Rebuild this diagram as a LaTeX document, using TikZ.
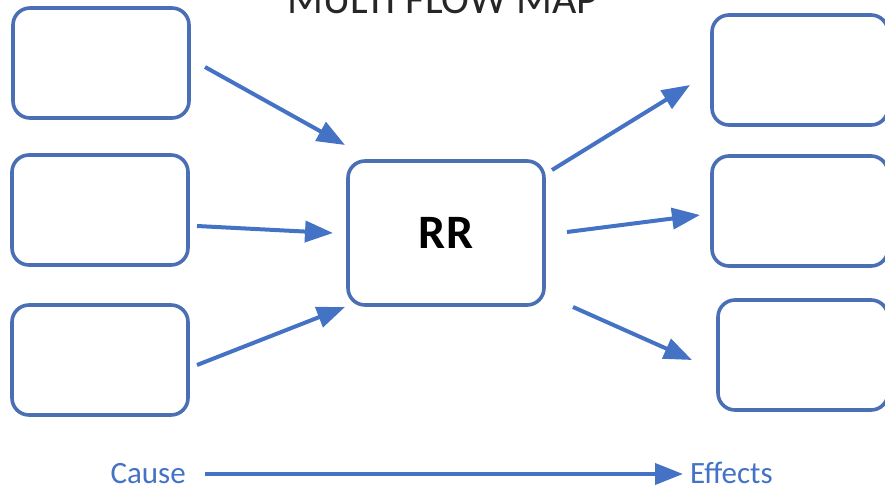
\documentclass[tikz,border=0pt]{standalone}
\usepackage{fontspec}
\setmainfont{Carlito}
\usetikzlibrary{arrows.meta}
\definecolor{boxblue}{HTML}{4A6FB5}
\definecolor{arrblue}{HTML}{4472C4}
\definecolor{titlegray}{HTML}{262626}
\tikzset{
  box/.style={draw=boxblue, line width=3.6pt, rounded corners=17pt, fill=white, inner sep=0pt},
  arr/.style={draw=arrblue, line width=4pt, -{Triangle[length=28pt,width=21pt]}},
  lbl/.style={text=arrblue, font=\fontsize{31}{33}\selectfont, inner sep=0pt},
}
\begin{document}
\begin{tikzpicture}[x=1pt,y=-1pt]
\useasboundingbox (0,0) rectangle (885,492);
\node[text=titlegray, font=\fontsize{42}{46}\selectfont, anchor=base] (title) at (443,14) {MULTI FLOW MAP};
\node[box, minimum width=176pt, minimum height=110pt] (l1) at (101,63) {};
\node[box, minimum width=176pt, minimum height=110pt] (l2) at (100,210) {};
\node[box, minimum width=176pt, minimum height=110pt] (l3) at (100,360) {};
\node[box, minimum width=196pt, minimum height=144pt, font=\fontsize{48}{52}\selectfont\bfseries] (c) at (446,233) {RR};
\node[box, minimum width=176pt, minimum height=110pt] (r1) at (800,70) {};
\node[box, minimum width=176pt, minimum height=110pt] (r2) at (800,211) {};
\node[box, minimum width=170pt, minimum height=110pt] (r3) at (803,355) {};
\coordinate (a1s) at (205,67); \coordinate (a1e) at (345,145);
\coordinate (a2s) at (197,226); \coordinate (a2e) at (333,233);
\coordinate (a3s) at (197,365); \coordinate (a3e) at (345,307);
\coordinate (a4s) at (552,170); \coordinate (a4e) at (690,85);
\coordinate (a5s) at (567,232); \coordinate (a5e) at (700,215);
\coordinate (a6s) at (573,307); \coordinate (a6e) at (692,360);
\draw[arr] (a1s) -- (a1e);
\draw[arr] (a2s) -- (a2e);
\draw[arr] (a3s) -- (a3e);
\draw[arr] (a4s) -- (a4e);
\draw[arr] (a5s) -- (a5e);
\draw[arr] (a6s) -- (a6e);
\node[lbl, anchor=base east] (cause) at (186,483) {Cause};
\node[lbl, anchor=base west] (eff) at (690,483) {Effects};
\coordinate (bl) at (205,474);
\coordinate (br) at (683,474);
\draw[arr] (bl) -- (br);
\end{tikzpicture}
\end{document}
